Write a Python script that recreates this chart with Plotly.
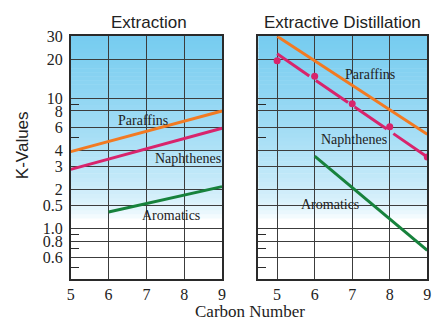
import plotly.graph_objects as go
import math

# ---------------- data ----------------
carbon = [5, 6, 7, 8, 9]

# Extraction panel
ext_par_x = [5, 9]
ext_par_y = [3.9, 8.0]
ext_nap_x = [5, 9]
ext_nap_y = [2.85, 5.9]
ext_aro_x = [6, 9]
ext_aro_y = [1.34, 2.1]

# Extractive distillation panel
ed_par_x = [5, 9]
ed_par_y = [30.0, 5.3]
ed_nap_line_x = [5, 9]
ed_nap_line_y = [22.0, 3.55]
ed_nap_dot_x = [5, 6, 7, 8, 9]
ed_nap_dot_y = [19.5, 14.8, 9.1, 6.05, 3.55]
ed_aro_x = [6, 9]
ed_aro_y = [3.6, 0.68]

# y axis ticks (as printed)
ytick_vals = [30, 20, 10, 8, 6, 4, 3, 2, 1.5, 1.0, 0.8, 0.6]
ytick_text = ["30", "20", "10", "8", "6", "4", "3", "2", "0.5", "1.0", "0.8", "0.6"]
minor_vals = [9, 5, 0.9, 0.7, 0.5]
x_ticks = [5, 6, 7, 8, 9]

ORANGE = "#f27a22"
PINK = "#d8246c"
GREEN = "#17823c"
GRID = "#3c3c3c"
SERIF = "Liberation Serif, Times New Roman, serif"
SANS = "Liberation Sans, Arial, sans-serif"

fig = go.Figure()

def add_line(x, y, color, xa, ya, dash="solid"):
    fig.add_trace(go.Scatter(x=x, y=y, mode="lines", xaxis=xa, yaxis=ya,
                             line=dict(color=color, width=3, dash=dash),
                             showlegend=False, hoverinfo="skip"))

add_line(ext_par_x, ext_par_y, ORANGE, "x", "y")
add_line(ext_nap_x, ext_nap_y, PINK, "x", "y")
add_line(ext_aro_x, ext_aro_y, GREEN, "x", "y")

add_line(ed_par_x, ed_par_y, ORANGE, "x2", "y2")
add_line(ed_nap_line_x, ed_nap_line_y, PINK, "x2", "y2", dash="39px,8px")
fig.add_trace(go.Scatter(x=ed_nap_dot_x, y=ed_nap_dot_y, mode="markers", xaxis="x2", yaxis="y2",
                         marker=dict(color=PINK, size=7), showlegend=False, hoverinfo="skip"))
add_line(ed_aro_x, ed_aro_y, GREEN, "x2", "y2")

W, H = 446, 322
top_px, bot_px = 29, 278
ydom = [1 - bot_px / H, 1 - top_px / H]
xdom1 = [68 / W, 222 / W]
xdom2 = [259 / W, 431 / W]

yrange = [math.log10(0.409), math.log10(30)]

yax_common = dict(type="log", range=yrange, domain=ydom, tickmode="array",
                  tickvals=ytick_vals, showgrid=True, gridcolor=GRID, gridwidth=1,
                  ticks="", showline=True, linecolor="#2a2a2a", linewidth=1.5, mirror=True,
                  zeroline=False,
                  minor=dict(tickvals=minor_vals, ticks="inside", ticklen=8,
                             tickcolor="#2a2a2a", tickwidth=1, showgrid=False))
xax_common = dict(tickmode="array", tickvals=x_ticks, showgrid=True, gridcolor=GRID,
                  gridwidth=1, ticks="", showline=True, linecolor="#2a2a2a", linewidth=1.5,
                  mirror=True, zeroline=False,
                  tickfont=dict(family=SERIF, size=16, color="#222"))

fig.update_layout(
    width=W, height=H, margin=dict(l=0, r=0, t=0, b=0),
    paper_bgcolor="white", plot_bgcolor="white",
    xaxis=dict(domain=xdom1, range=[5, 9], anchor="y", **xax_common),
    yaxis=dict(anchor="x", ticktext=ytick_text, showticklabels=True, ticklabelstandoff=3,
               tickfont=dict(family=SERIF, size=16, color="#222"), **yax_common),
    xaxis2=dict(domain=xdom2, range=[4.5, 9], anchor="y2", **xax_common),
    yaxis2=dict(anchor="x2", showticklabels=False, **yax_common),
)

# background gradient (sky blue at top to white lower down)
shapes = []
N = 60
blue = (118, 204, 240)
for i in range(N):
    t0 = i / N
    t1 = (i + 1) / N
    tm = (t0 + t1) / 2
    if tm < 0.25:
        f = 0.0
    else:
        s = (tm - 0.25) / 0.75
        f = min(1.0, s ** 0.55)
    c = tuple(int(round(255 * (1 - f) + b * f)) for b in blue)
    col = "rgb(%d,%d,%d)" % c
    for xr, yr in (("x domain", "y domain"), ("x2 domain", "y2 domain")):
        shapes.append(dict(type="rect", xref=xr, yref=yr, x0=0, x1=1, y0=t0, y1=t1 + 0.002,
                           fillcolor=col, line=dict(width=0), layer="below"))
fig.update_layout(shapes=shapes)

def ann(text, x, y, size=14, family=SERIF, angle=0, color="#222"):
    fig.add_annotation(text=text, x=x / W, y=1 - y / H, xref="paper", yref="paper",
                       showarrow=False, font=dict(family=family, size=size, color=color),
                       textangle=angle, xanchor="center", yanchor="middle")

ann("Extraction", 148, 15, size=17, family=SANS)
ann("Extractive Distillation", 345, 15, size=17, family=SANS)
ann("K-Values", 19, 141, size=17, family=SANS, angle=-90)
ann("Carbon Number", 251, 311, size=17)

ann("Paraffins", 142, 115)
ann("Naphthenes", 187, 154)
ann("Aromatics", 170, 213)
ann("Paraffins", 373, 68)
ann("Naphthenes", 356, 135)
ann("Aromatics", 332, 202)

fig.write_html("out.html")
